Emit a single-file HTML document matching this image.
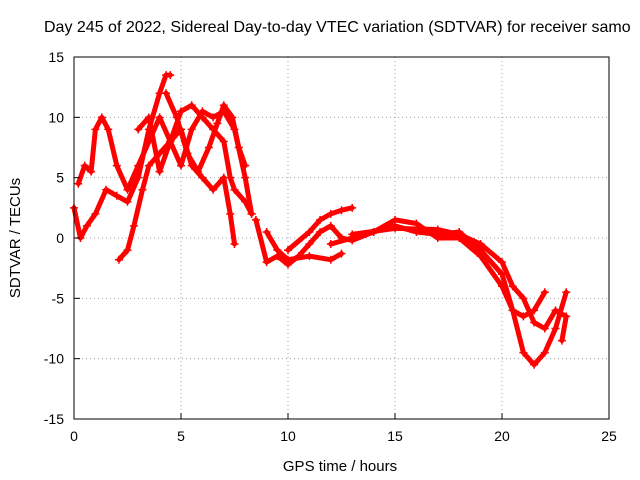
<!DOCTYPE html>
<html><head><meta charset="utf-8"><style>
body{margin:0;background:#fff;}
svg{display:block;font-family:"Liberation Sans",sans-serif;}
</style></head><body>
<svg id="chart" width="640" height="480" xmlns="http://www.w3.org/2000/svg">
<text x="44" y="32" font-size="16" fill="#000">Day 245 of 2022, Sidereal Day-to-day VTEC variation (SDTVAR) for receiver samo</text>
<text x="340" y="471" font-size="15" text-anchor="middle">GPS time / hours</text>
<text transform="translate(20,238) rotate(-90)" font-size="15" text-anchor="middle">SDTVAR / TECUs</text>
<g id="grid"></g><g id="series"></g><g id="axes"></g>
</svg>
<script>
const xTicks=[0,5,10,15,20,25];
const yTicks=[-15,-10,-5,0,5,10,15];
const trackA=[[0,2.5],[0.3,0],[0.6,1],[1,2],[1.5,4],[2,3.5],[2.5,3],[3,5],[3.5,9],[4,12],[4.3,13.5],[4.5,13.5]];
const trackB=[[0.2,4.5],[0.5,6],[0.8,5.5],[1,9],[1.3,10],[1.6,9],[2,6],[2.5,4],[3,6],[3.5,8],[4,10],[4.5,8],[5,6],[5.5,9],[6,10.5],[6.5,10],[7,10.5],[7.5,9],[8,5],[8.3,2]];
const trackC=[[2.1,-1.8],[2.5,-1],[2.8,1],[3.2,4],[3.5,6],[4,7],[4.5,8],[5,10.5],[5.5,11],[6,10],[6.5,9],[7,8],[7.3,5],[7.5,4],[8,3],[8.3,2]];
const trackD=[[3,9],[3.5,10],[4,5.5],[4.5,8],[5,9],[5.5,6],[6,5],[6.5,4],[7,5],[7.3,2],[7.5,-0.5]];
const trackE=[[4.3,12],[4.8,10],[5.3,7],[5.8,5.5],[6.3,7.5],[6.7,9.5],[7,11],[7.4,10],[7.7,7.5],[8,6]];
const trackF=[[8.5,1.5],[9,-2],[9.5,-1.5],[10,-2.2],[10.5,-1.5],[11,-0.5],[11.5,0.5],[12,1],[12.5,0],[13,-0.2],[14,0.5],[15,1],[16,0.5],[17,0.3],[18,0.5],[19,-1],[20,-3],[20.5,-6],[21,-9.5],[21.5,-10.5],[22,-9.5],[22.5,-7.5],[23,-4.5]];
const trackG=[[9,0.5],[9.5,-1],[10,-1.8],[11,-1.5],[12,-1.8],[12.5,-1.3]];
const trackH=[[10,-1],[11,0.5],[11.5,1.5],[12,2],[12.5,2.3],[13,2.5]];
const trackI=[[12,-0.5],[13,0],[14,0.5],[15,1.5],[16,1.2],[17,0],[18,0],[19,-1.5],[20,-4],[20.5,-6],[21,-6.5],[21.5,-6],[22,-4.5]];
const trackJ=[[13,0.3],[15,0.8],[17,0.7],[18,0.3],[19,-0.5],[20,-2],[20.5,-4],[21,-5],[21.5,-7],[22,-7.5],[22.5,-6],[23,-6.5],[22.8,-8.5]];
const tracks=[trackA,trackB,trackC,trackD,trackE,trackF,trackG,trackH,trackI,trackJ];
const X0=74,X1=609,Y0=419,Y1=57;
const sx=v=>X0+(v-0)/(25-0)*(X1-X0);
const sy=v=>Y0-(v+15)/30*(Y0-Y1);
const NS="http://www.w3.org/2000/svg";
function mk(t,a,p){const e=document.createElementNS(NS,t);for(const k in a)e.setAttribute(k,a[k]);p.appendChild(e);return e;}
const grid=document.getElementById('grid'),axes=document.getElementById('axes'),ser=document.getElementById('series');
xTicks.forEach(t=>{
 if(t>0&&t<25){const l=mk('line',{x1:sx(t),x2:sx(t),y1:Y1,y2:Y0,stroke:'#a0a0a0','stroke-dasharray':'1,3'},grid);
 }
 const tk=mk('line',{x1:sx(t),x2:sx(t),y1:Y0,y2:Y0-6,stroke:'#000'},axes);
 
 const tx=mk('text',{x:sx(t),y:Y0+22,'font-size':14,'text-anchor':'middle'},axes);tx.textContent=t;
 
});
yTicks.forEach(t=>{
 if(t>-15&&t<15){const l=mk('line',{x1:X0,x2:X1,y1:sy(t),y2:sy(t),stroke:'#a0a0a0','stroke-dasharray':'1,3'},grid);
 }
 const tk=mk('line',{x1:X0,x2:X0+6,y1:sy(t),y2:sy(t),stroke:'#000'},axes);
 
 const tx=mk('text',{x:X0-10,y:sy(t)+5,'font-size':14,'text-anchor':'end'},axes);tx.textContent=t;
 
});
const fr=mk('rect',{x:X0,y:Y1,width:X1-X0,height:Y0-Y1,fill:'none',stroke:'#000'},axes);

tracks.forEach(tr=>{
 const pl=mk('polyline',{points:tr.map(p=>sx(p[0])+','+sy(p[1])).join(' '),fill:'none',stroke:'#ff0000','stroke-width':5,'stroke-linejoin':'round','stroke-linecap':'round'},ser);
 
 tr.forEach(p=>{
  const x=sx(p[0]),y=sy(p[1]);
  const m=mk('path',{d:`M${x-4},${y}H${x+4}M${x},${y-4}V${y+4}`,stroke:'#ff0000','stroke-width':1.5},ser);
  
 });
});
</script>
</body></html>
